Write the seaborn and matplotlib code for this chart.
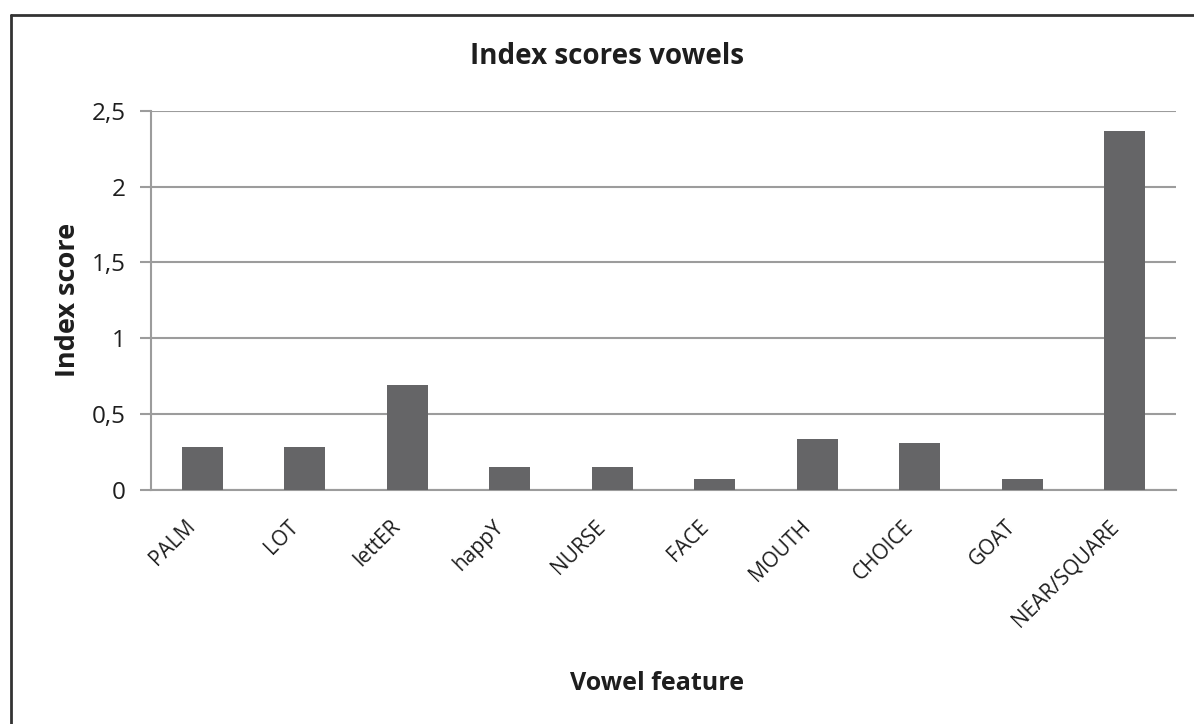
import matplotlib
matplotlib.use("Agg")
import matplotlib.pyplot as plt
import matplotlib.transforms as mtransforms
import seaborn as sns
import pandas as pd
from matplotlib.lines import Line2D

# Index scores per vowel feature
features = ["PALM", "LOT", "lettER", "happY", "NURSE", "FACE",
            "MOUTH", "CHOICE", "GOAT", "NEAR/SQUARE"]
scores = [0.283, 0.283, 0.692, 0.150, 0.150, 0.073,
          0.332, 0.308, 0.073, 2.366]
y_ticks = [0, 0.5, 1, 1.5, 2, 2.5]
y_tick_labels = ["0", "0,5", "1", "1,5", "2", "2,5"]

df = pd.DataFrame({"feature": features, "score": scores})

sns.set_theme(style="white")
plt.rcParams["font.family"] = ["Open Sans", "DejaVu Sans"]

W, H = 1194, 724
fig = plt.figure(figsize=(W / 100, H / 100), dpi=100)
ax = fig.add_axes([151 / W, 1 - 489.7 / H, (1176 - 151) / W, (489.7 - 110.7) / H])

sns.barplot(data=df, x="feature", y="score", color="#656567", width=0.4,
            saturation=1, ax=ax, zorder=3, edgecolor="none")

grid_col = "#9c9c9c"
txt_col = "#1e1e1e"
ax.set_ylim(0, 2.5)
ax.set_xlim(-0.5, len(features) - 0.5)
ax.set_yticks(y_ticks)
ax.set_yticklabels(y_tick_labels, fontsize=17.5, color=txt_col)
ax.yaxis.grid(True, color=grid_col, linewidth=1.5, zorder=0)
ax.xaxis.grid(False)
ax.tick_params(axis="y", which="major", left=True, length=8, width=1.5,
               color=grid_col, pad=10)
ax.tick_params(axis="x", bottom=False, pad=13)
for side in ["top", "right"]:
    ax.spines[side].set_visible(False)
for side in ["left", "bottom"]:
    ax.spines[side].set_color(grid_col)
    ax.spines[side].set_linewidth(1.5)

ax.set_xticks(range(len(features)))
ax.set_xticklabels(features, rotation=45, ha="right", rotation_mode="anchor",
                   fontsize=15, color=txt_col)
# nudge the slanted category labels left so they end just under each bar
shift = mtransforms.ScaledTranslation(-17 / 100, 0, fig.dpi_scale_trans)
for lbl in ax.get_xticklabels():
    lbl.set_transform(lbl.get_transform() + shift)
ax.set_xlabel("")
ax.set_ylabel("Index score", fontsize=19.5, fontweight="bold", color=txt_col,
              labelpad=8)

fig.text(607 / W, 1 - 57 / H, "Index scores vowels", ha="center", va="center",
         fontsize=20, fontweight="bold", color=txt_col)
fig.text(657 / W, 1 - 683 / H, "Vowel feature", ha="center", va="center",
         fontsize=18, fontweight="bold", color=txt_col)

# Frame around the chart area
fig.add_artist(Line2D([11 / W, 11 / W], [1 - 15 / H, 0], transform=fig.transFigure,
                      color="#333333", linewidth=2))
fig.add_artist(Line2D([11 / W, 1], [1 - 15 / H, 1 - 15 / H], transform=fig.transFigure,
                      color="#333333", linewidth=2))

fig.savefig("out.png", dpi=100, facecolor="white")
